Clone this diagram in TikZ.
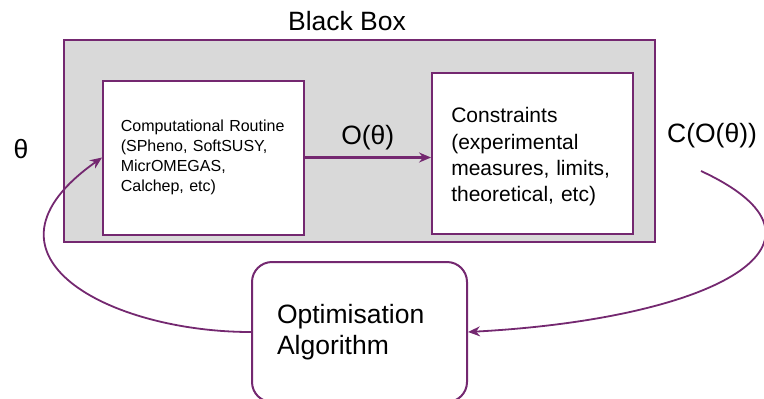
\documentclass[tikz,border=0pt]{standalone}
\usepackage{fontspec}
\setmainfont{Liberation Sans}
\usetikzlibrary{arrows.meta, positioning}
\definecolor{plum}{RGB}{116,40,112}
\definecolor{boxgray}{RGB}{217,217,217}

\begin{document}
\begin{tikzpicture}[
    x=0.5pt, y=-0.5pt,
    >={Stealth[length=6pt, width=5pt]},
    frame/.style={draw=plum, line width=1pt, fill=white, inner sep=0pt},
    big/.style={font=\fontsize{13.25}{15.5}\selectfont, inner sep=0pt},
    flow/.style={->, draw=plum, line width=0.9pt}
  ]
  \useasboundingbox (0,0) rectangle (764,398);

  % Black box
  \node[frame, fill=boxgray, minimum width=295.5pt, minimum height=101pt]
    (blackbox) at (359.5,141) {};
  \node[big] (bbtitle) at (347,21) {Black Box};

  % Inside the black box
  \node[frame, minimum width=100.25pt, minimum height=77pt, text width=82.5pt,
        align=left, font=\fontsize{8}{10}\selectfont]
    (routine) at (203.3,157.5)
    {Computational Routine\\(SPheno, SoftSUSY,\\MicrOMEGAS,\\Calchep, etc)};
  \node[frame, minimum width=100.25pt, minimum height=80.5pt, text width=81pt,
        align=left, font=\fontsize{10.5}{13.2}\selectfont,
        right=63.25pt of routine, yshift=2pt]
    (constraints)
    {\rule{0pt}{11pt}Constraints\\(experimental\\measures, limits,\\theoretical, etc)};
  \draw[flow, line width=1.2pt] (routine.east) -- (routine.east -| constraints.west)
    node[big, midway, above=3pt] (otheta) {O(θ)};

  % Optimiser
  \node[frame, rounded corners=10pt, minimum width=107.5pt, minimum height=70pt,
        text width=82.5pt, align=left, font=\fontsize{13.25}{15.5}\selectfont,
        below=9pt of blackbox]
    (optim) {Optimisation\\Algorithm};

  % Loop labels
  \node[big] (theta) at (21,149) {θ};
  \node[big] (ctheta) at (712,136) {C(O(θ))};
  \coordinate (cstart) at (701,171);

  % Feedback loop
  \draw[flow] (optim.west) .. controls +(-142,0) and +(-139,98) .. (routine.west);
  \draw[flow] (cstart) .. controls +(153,71) and +(250,-13.5) .. (optim.east);
\end{tikzpicture}
\end{document}
